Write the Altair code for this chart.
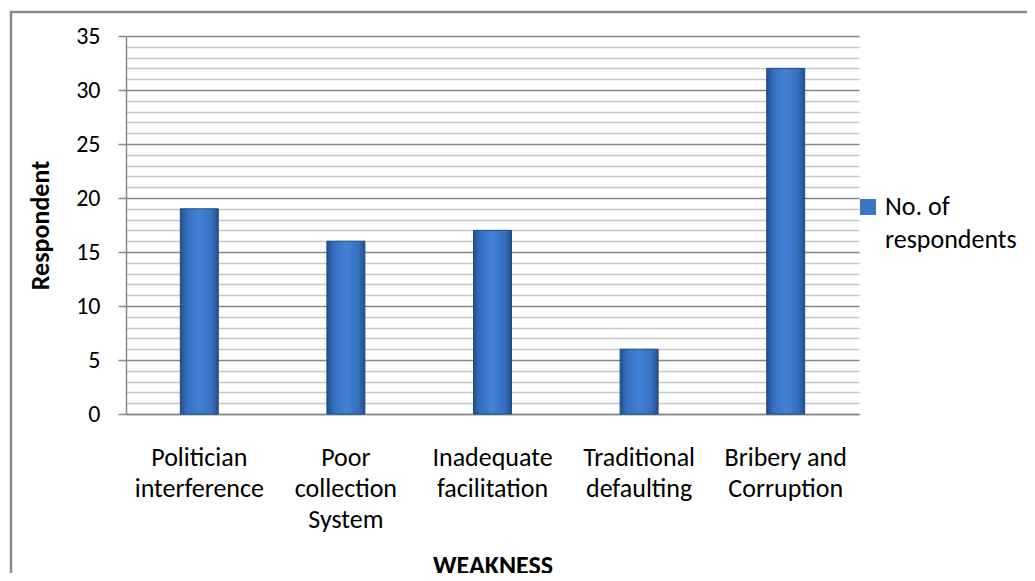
import altair as alt
import pandas as pd

categories = [
    "Politician\ninterference",
    "Poor\ncollection\nSystem",
    "Inadequate\nfacilitation",
    "Traditional\ndefaulting",
    "Bribery and\nCorruption",
]
values = [19, 16, 17, 6, 32]
series_name = "No. of\nrespondents"

df = pd.DataFrame({"weakness": categories, "count": values, "series": [series_name] * len(values)})

FONT = "Carlito, Calibri, Lato, sans-serif"
W, H = 733, 378

x_enc = alt.X(
    "weakness:N",
    sort=categories,
    title="WEAKNESS",
    scale=alt.Scale(paddingInner=0, paddingOuter=0),
    axis=alt.Axis(
        labelExpr="split(datum.label, '\\n')",
        labelAngle=0,
        labelBaseline="top",
        labelPadding=30,
        labelLineHeight=31,
        labelFontSize=26,
        labelFont=FONT,
        labelColor="#000000",
        labelLimit=200,
        ticks=False,
        domainColor="#868686",
        domainWidth=1.5,
        grid=False,
        titleFont=FONT,
        titleFontSize=26,
        titleFontWeight="bold",
        titleColor="#000000",
        titlePadding=20,
    ),
)

y_enc = alt.Y(
    "count:Q",
    title="Respondent",
    scale=alt.Scale(domain=[0, 35], nice=False),
    axis=alt.Axis(
        values=list(range(0, 36)),
        tickCount=36,
        labelExpr="datum.value % 5 === 0 ? datum.label : ''",
        labelOverlap=False,
        labelFontSize=24,
        labelFont=FONT,
        labelColor="#000000",
        labelPadding=18,
        tickSize=8,
        tickColor="#868686",
        tickWidth=1.5,
        tickOpacity={"condition": {"test": "datum.value % 5 === 0", "value": 1}, "value": 0},
        gridColor={"condition": {"test": "datum.value % 5 === 0", "value": "#868686"}, "value": "#c6c6c6"},
        gridWidth=1.5,
        domainColor="#868686",
        domainWidth=1.5,
        titleFont=FONT,
        titleFontSize=26,
        titleFontWeight="bold",
        titleColor="#000000",
        titlePadding=22,
    ),
)

bar_fill = alt.LinearGradient(
    gradient="linear",
    x1=0, x2=1, y1=0, y2=0,
    stops=[
        alt.GradientStop(color="#23508f", offset=0),
        alt.GradientStop(color="#3670c0", offset=0.18),
        alt.GradientStop(color="#4282d6", offset=0.5),
        alt.GradientStop(color="#3670c0", offset=0.82),
        alt.GradientStop(color="#23508f", offset=1),
    ],
)

bars = alt.Chart(df).mark_bar(size=38, fill=bar_fill, stroke="#244a7e", strokeWidth=1).encode(
    x=x_enc, y=y_enc
)

legend_layer = alt.Chart(df).mark_square(opacity=0, size=1).encode(
    x=alt.X("weakness:N", sort=categories),
    y=alt.Y("count:Q"),
    color=alt.Color(
        "series:N",
        scale=alt.Scale(range=["#3a75c6"]),
        legend=alt.Legend(
            title=None,
            orient="none",
            legendX=729,
            legendY=158,
            padding=0,
            symbolType="square",
            symbolSize=256,
            symbolOpacity=1,
            symbolStrokeWidth=0,
            labelExpr="split(datum.label, '\\n')",
            labelFont=FONT,
            labelFontSize=26,
            labelColor="#000000",
            labelOffset=4,
            labelLimit=300,
            labelBaseline="middle",
        ),
    ),
)

border_df = pd.DataFrame({"b": [1]})
border = alt.Chart(border_df).mark_rect(
    fill=None, stroke="#8a8a8a", strokeWidth=2.5, clip=False
).encode(
    x=alt.value(-115), x2=alt.value(960), y=alt.value(-24), y2=alt.value(620)
)

chart = alt.layer(border, bars, legend_layer).properties(
    width=W,
    height=H,
    autosize=alt.AutoSizeParams(type="none"),
    padding={"left": 118, "top": 28, "right": 168, "bottom": 159},
    background="#ffffff",
).configure(
    style={"guide-label": {"lineHeight": 33}}
).configure_view(stroke=None)

chart.save("out.html", embed_options={"renderer": "svg", "actions": False})
